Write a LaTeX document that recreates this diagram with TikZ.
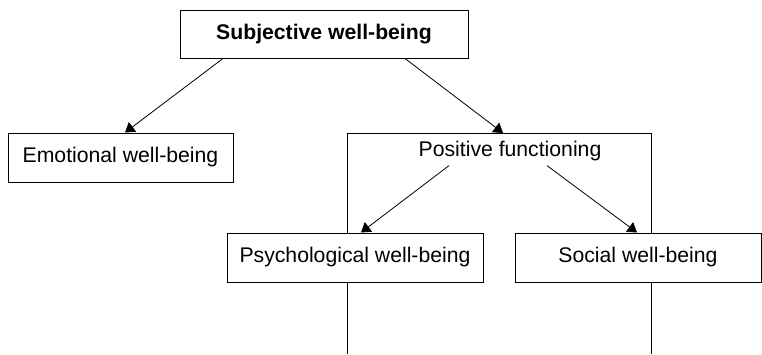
\documentclass[tikz,border=0pt]{standalone}
\usepackage{fontspec}
\setmainfont{Liberation Sans}
\usepackage{tikz}
\usetikzlibrary{arrows.meta}

\begin{document}
\begin{tikzpicture}[x=0.75pt,y=-0.75pt,
  bx/.style={draw, fill=white, line width=0.75pt, inner sep=0pt, minimum height=36.75pt, font=\fontsize{15.9}{19}\selectfont},
  a/.style={-{Triangle[length=7pt,width=9pt]}, line width=0.6pt}]
\useasboundingbox (0,0) rectangle (762,354);
% frame round the positive functioning part, open at the bottom
\draw[line width=0.75pt] (347,354) -- (347,133) -- (651,133) -- (651,354);
\coordinate (pftop) at (499,133);
\node[bx, minimum width=216pt, minimum height=36pt, font=\fontsize{15.9}{19}\selectfont\bfseries] (swb) at (324,34) {Subjective well-being};
\node[bx, minimum width=168.75pt] (ewb) at (120.5,157.5) {Emotional well-being};
\node[font=\fontsize{15.9}{19}\selectfont] (pf) at (510,151) {Positive functioning};
\node[bx, minimum width=192pt] (pwb) at (355,257.5) {Psychological well-being};
\node[bx, minimum width=184.5pt] (sowb) at (638,257.5) {Social well-being};
\draw[a] ([xshift=-75.75pt]swb.south) -- ([xshift=3.4pt]ewb.north);
\draw[a] ([xshift=60.75pt]swb.south) -- ([xshift=3pt]pftop);
\draw[a] ([xshift=-45.75pt]pf.south) -- ([xshift=4.5pt]pwb.north);
\draw[a] ([xshift=27.75pt]pf.south) -- ([xshift=-0.75pt]sowb.north);
\end{tikzpicture}
\end{document}
